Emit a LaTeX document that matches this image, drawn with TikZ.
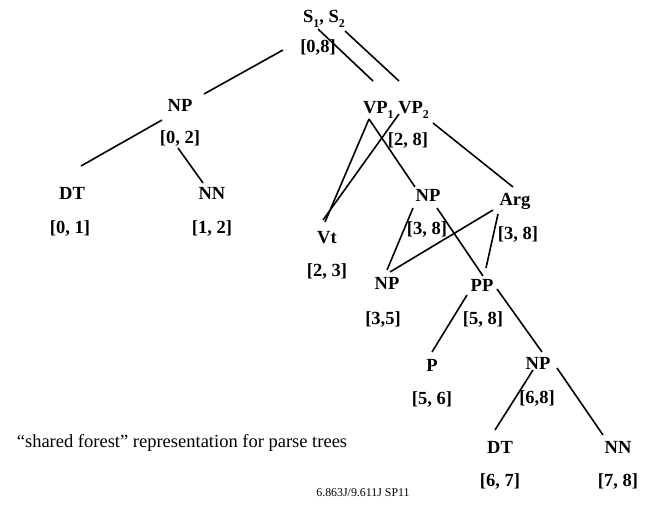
\documentclass[tikz,border=0pt]{standalone}
\usepackage{fontspec}
\setmainfont{Liberation Serif}
\newcommand{\lsub}[1]{\raisebox{-0.28em}{\fontsize{12}{12}\selectfont #1}}
\begin{document}
\begin{tikzpicture}[x=1pt,y=-1pt,
  lab/.style={anchor=base,inner sep=0pt,font=\bfseries\fontsize{18.5}{20}\selectfont},
  edge/.style={line width=1.6pt}]
\useasboundingbox (0,0) rectangle (645,504);
% nodes
\node[lab] (s)   at (324,22) {S\lsub{1}, S\lsub{2}};
\node[lab] (sr)  at (318,52) {[0,8]};
\node[lab] (np1) at (180,111) {NP};
\node[lab] (np1r) at (180,143) {[0, 2]};
\node[lab] (dt1) at (72,199) {DT};
\node[lab] (dt1r) at (70,233) {[0, 1]};
\node[lab] (nn1) at (212,199) {NN};
\node[lab] (nn1r) at (212,233) {[1, 2]};
\node[lab] (vp)  at (396,113) {VP\lsub{1} VP\lsub{2}};
\node[lab] (vpr) at (408,145) {[2, 8]};
\node[lab] (vt)  at (327,243) {Vt};
\node[lab] (vtr) at (327,276) {[2, 3]};
\node[lab] (npm) at (428,201) {NP};
\node[lab] (npmr) at (427,234) {[3, 8]};
\node[lab] (arg) at (515,205) {Arg};
\node[lab] (argr) at (518,239) {[3, 8]};
\node[lab] (npl) at (387,289) {NP};
\node[lab] (nplr) at (383,324) {[3,5]};
\node[lab] (pp)  at (482,291) {PP};
\node[lab] (ppr) at (483,324) {[5, 8]};
\node[lab] (p)   at (432,371) {P};
\node[lab] (pr)  at (432,404) {[5, 6]};
\node[lab] (npr) at (538,369) {NP};
\node[lab] (nprr) at (537,403) {[6,8]};
\node[lab] (dt2) at (500,453) {DT};
\node[lab] (dt2r) at (500,486) {[6, 7]};
\node[lab] (nn2) at (618,453) {NN};
\node[lab] (nn2r) at (618,486) {[7, 8]};
\node[anchor=base,inner sep=0pt,font=\fontsize{18.5}{20}\selectfont] (cap) at (182,447)
  {“shared forest” representation for parse trees};
\node[anchor=base,inner sep=0pt,font=\fontsize{11.9}{13}\selectfont] (foot) at (363,496)
  {6.863J/9.611J SP11};
% connectors
\draw[edge] ([shift={(-6,7)}]s.base) -- ([shift={(-23,-32)}]vp.base);
\draw[edge] ([shift={(21,9)}]s.base) -- ([shift={(3,-32)}]vp.base);
\draw[edge] ([shift={(-41,28)}]s.base) -- ([shift={(24,-17)}]np1.base);
\draw[edge] ([shift={(-18,9)}]np1.base) -- ([shift={(9,-33)}]dt1.base);
\draw[edge] ([shift={(-2,5)}]np1r.base) -- ([shift={(-9,-16)}]nn1.base);
\draw[edge] ([shift={(-27,6)}]vp.base) -- ([shift={(-2,-21)}]vt.base);
\draw[edge] ([shift={(-27,6)}]vp.base) -- ([shift={(-13,-14)}]npm.base);
\draw[edge] ([shift={(3,1)}]vp.base) -- ([shift={(-4,-23)}]vt.base);
\draw[edge] ([shift={(37,10)}]vp.base) -- ([shift={(-2,-18)}]arg.base);
\draw[edge] ([shift={(-15,7)}]npm.base) -- ([shift={(0,-19)}]npl.base);
\draw[edge] ([shift={(9,7)}]npm.base) -- ([shift={(1,-15)}]pp.base);
\draw[edge] ([shift={(-22,5)}]arg.base) -- ([shift={(3,-17)}]npl.base);
\draw[edge] ([shift={(-17,9)}]arg.base) -- ([shift={(4,-23)}]pp.base);
\draw[edge] ([shift={(-15,4)}]pp.base) -- ([shift={(0,-19)}]p.base);
\draw[edge] ([shift={(15,-2)}]pp.base) -- ([shift={(4,-17)}]npr.base);
\draw[edge] ([shift={(-5,1)}]npr.base) -- ([shift={(-5,-23)}]dt2.base);
\draw[edge] ([shift={(19,-1)}]npr.base) -- ([shift={(-15,-18)}]nn2.base);
\end{tikzpicture}
\end{document}
